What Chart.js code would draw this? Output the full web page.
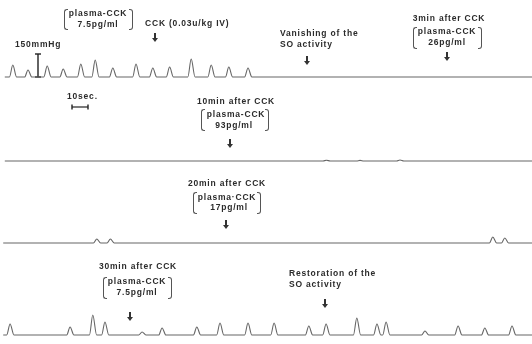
<!DOCTYPE html>
<html>
<head>
<meta charset="utf-8">
<script src="https://cdn.jsdelivr.net/npm/chart.js@4.4.1/dist/chart.umd.min.js"></script>
<style>
  html, body { margin: 0; padding: 0; background: #fff; }
  #wrap { position: relative; width: 532px; height: 344px; overflow: hidden; }
  #chart { position: absolute; left: 0; top: 0; }
  .t { position: absolute; font: bold 8.5px "Liberation Sans", Arial, sans-serif; letter-spacing: 0.8px;
       color: #2b2b2b; white-space: nowrap; line-height: 1; transform: translateY(-50%); }
  .c { transform: translate(-50%, -50%); }
  .arrow { position: absolute; width: 2px; height: 5px; background: #333; transform: translate(-50%, -60%); }
  .arrow::after { content: ""; position: absolute; left: -2px; top: 5px;
                  border-left: 3px solid transparent; border-right: 3px solid transparent; border-top: 4px solid #333; }
  .br { position: absolute; width: 3px; border: 1px solid #555; }
  .br.l { border-right: none; border-radius: 3px 0 0 3px; }
  .br.r { border-left: none; border-radius: 0 3px 3px 0; }
</style>
</head>
<body>
<div id="wrap">
  <canvas id="chart" width="532" height="344"></canvas>

  <!-- strip 1 -->
  <div class="br l" style="left:64px;top:9px;height:19px"></div>
  <div class="br r" style="left:129px;top:9px;height:19px"></div>
  <div class="t c" style="left:98px;top:13px">plasma-CCK</div>
  <div class="t c" style="left:98px;top:24px">7.5pg/ml</div>
  <div class="t" style="left:145px;top:23px">CCK (0.03u/kg IV)</div>
  <div class="arrow" style="left:155px;top:36px"></div>
  <div class="t" style="left:15px;top:44px">150mmHg</div>
  <div class="t" style="left:280px;top:33px">Vanishing of the</div>
  <div class="t" style="left:280px;top:44px">SO activity</div>
  <div class="arrow" style="left:307px;top:59px"></div>
  <div class="t c" style="left:449px;top:18px">3min after CCK</div>
  <div class="br l" style="left:413px;top:27px;height:20px"></div>
  <div class="br r" style="left:478px;top:27px;height:20px"></div>
  <div class="t c" style="left:447px;top:31px">plasma-CCK</div>
  <div class="t c" style="left:447px;top:42px">26pg/ml</div>
  <div class="arrow" style="left:447px;top:55px"></div>

  <!-- strip 2 -->
  <div class="t" style="left:67px;top:96px">10sec.</div>
  <div class="t c" style="left:236px;top:101px">10min after CCK</div>
  <div class="br l" style="left:201px;top:109px;height:20px"></div>
  <div class="br r" style="left:265px;top:109px;height:20px"></div>
  <div class="t c" style="left:236px;top:114px">plasma-CCK</div>
  <div class="t c" style="left:234px;top:125px">93pg/ml</div>
  <div class="arrow" style="left:230px;top:142px"></div>

  <!-- strip 3 -->
  <div class="t c" style="left:227px;top:183px">20min after CCK</div>
  <div class="br l" style="left:193px;top:192px;height:20px"></div>
  <div class="br r" style="left:257px;top:192px;height:20px"></div>
  <div class="t c" style="left:227px;top:197px">plasma·CCK</div>
  <div class="t c" style="left:229px;top:207px">17pg/ml</div>
  <div class="arrow" style="left:226px;top:223px"></div>

  <!-- strip 4 -->
  <div class="t c" style="left:138px;top:266px">30min after CCK</div>
  <div class="br l" style="left:103px;top:277px;height:20px"></div>
  <div class="br r" style="left:168px;top:277px;height:20px"></div>
  <div class="t c" style="left:137px;top:281px">plasma-CCK</div>
  <div class="t c" style="left:137px;top:292px">7.5pg/ml</div>
  <div class="arrow" style="left:130px;top:315px"></div>
  <div class="t" style="left:289px;top:273px">Restoration of the</div>
  <div class="t" style="left:289px;top:284px">SO activity</div>
  <div class="arrow" style="left:325px;top:302px"></div>
</div>

<script>
// sphincter of Oddi pressure traces, time in s from strip start, pressure in mmHg above baseline
const strip1Range = [3, 333];
const strip1PeakTimes = [8, 17.5, 29.5, 39.5, 50.5, 59.5, 70.5, 85, 95.5, 106, 119.5, 132, 143, 155];
const strip1PeakHeights = [78, 46, 72, 52, 85, 111, 59, 85, 59, 65, 117, 78, 65, 59];

const strip2Range = [3, 333];
const strip2PeakTimes = [204, 225, 250];
const strip2PeakHeights = [5, 4, 7];

const strip3Range = [2, 333];
const strip3PeakTimes = [60.5, 69, 308, 315.5];
const strip3PeakHeights = [26, 26, 39, 33];

const strip4Range = [2, 333];
const strip4PeakTimes = [6.3, 43.8, 58, 65.6, 88.8, 101.3, 123, 137.5, 155, 171.3, 193, 203.8, 223, 235.6, 241.3, 265.6, 286.3, 303, 320];
const strip4PeakHeights = [72, 52, 130, 85, 20, 46, 52, 78, 78, 78, 59, 72, 111, 72, 85, 26, 59, 46, 59];

// calibration marks
const calPressure = 150;   // mmHg
const calTime = 10;        // sec

// layout
const PX_PER_SEC = 1.6;
const PX_PER_MMHG = 23 / 150;
const W = 532, H = 344;
const stripBasePx = [77, 161, 243, 335];

function trace(range, times, heights) {
  const pts = [{x: range[0], y: 0}];
  times.forEach((t, i) => {
    pts.push({x: t - 2.1, y: 0}, {x: t, y: heights[i]}, {x: t + 2.4, y: 0});
  });
  pts.push({x: range[1], y: 0});
  return pts;
}

function stripAxis(i) {
  const base = stripBasePx[i];
  return {
    type: 'linear', display: false,
    max: base / PX_PER_MMHG,
    min: -(H - base) / PX_PER_MMHG
  };
}

const traceStyle = {
  borderColor: '#666',
  borderWidth: 1.1,
  pointRadius: 0,
  cubicInterpolationMode: 'monotone',
  clip: false
};

const barStyle = {
  borderColor: '#222',
  borderWidth: 1.4,
  pointStyle: 'line',
  pointRadius: 3,
  pointBorderWidth: 1.4,
  pointBorderColor: '#222',
  clip: false
};

const calX = 38 / PX_PER_SEC;
const tenSecStart = 72 / PX_PER_SEC;
const tenSecLevel = (161 - 107) / PX_PER_MMHG;

new Chart(document.getElementById('chart'), {
  type: 'line',
  data: {
    datasets: [
      {label: 'strip1', data: trace(strip1Range, strip1PeakTimes, strip1PeakHeights), yAxisID: 'y1', ...traceStyle},
      {label: 'strip2', data: trace(strip2Range, strip2PeakTimes, strip2PeakHeights), yAxisID: 'y2', ...traceStyle},
      {label: 'strip3', data: trace(strip3Range, strip3PeakTimes, strip3PeakHeights), yAxisID: 'y3', ...traceStyle},
      {label: 'strip4', data: trace(strip4Range, strip4PeakTimes, strip4PeakHeights), yAxisID: 'y4', ...traceStyle},
      {label: '150mmHg', data: [{x: calX, y: 0}, {x: calX, y: calPressure}], yAxisID: 'y1', ...barStyle},
      {label: '10sec', data: [{x: tenSecStart, y: tenSecLevel}, {x: tenSecStart + calTime, y: tenSecLevel}],
       yAxisID: 'y2', ...barStyle, borderWidth: 1.2, pointRotation: 90, pointRadius: 2.5}
    ]
  },
  options: {
    responsive: false,
    animation: false,
    layout: {padding: 0, autoPadding: false},
    plugins: {legend: {display: false}, tooltip: {enabled: false}},
    scales: {
      x: {type: 'linear', display: false, min: 0, max: W / PX_PER_SEC},
      y1: stripAxis(0),
      y2: stripAxis(1),
      y3: stripAxis(2),
      y4: stripAxis(3)
    }
  }
});
</script>
</body>
</html>
